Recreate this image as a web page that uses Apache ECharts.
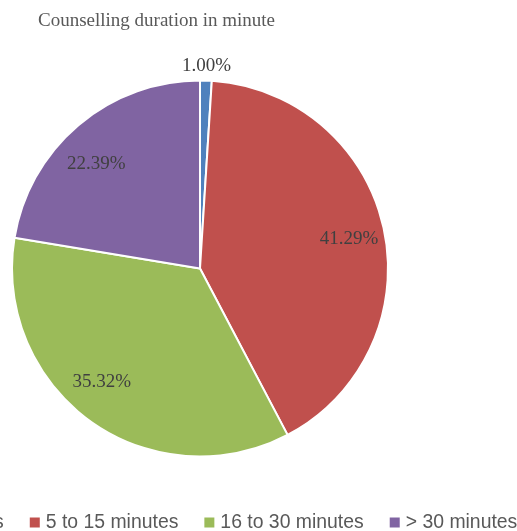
<!DOCTYPE html>
<html>
<head>
<meta charset="utf-8">
<script src="https://cdn.jsdelivr.net/npm/echarts@6/dist/echarts.min.js"></script>
<style>
html,body{margin:0;padding:0;background:#fff;}
#chart{width:517px;height:531px;}
</style>
</head>
<body>
<div id="chart"></div>
<script>
const categories = ['< 5 minutes', '5 to 15 minutes', '16 to 30 minutes', '> 30 minutes'];
const values = [1.00, 41.29, 35.32, 22.39];
const colors = ['#4F81BD', '#C0504D', '#9BBB59', '#8064A2'];
const titleText = 'Counselling duration in minute';

const fmt = p => p.value.toFixed(2) + '%';
const labelFont = { fontFamily: '"Liberation Serif", "Times New Roman", serif', fontSize: 19, color: '#404040' };
const center = [200, 268.5];

// label nudges (styling, Excel "best fit" placement)
const nudge = { 1: [0, 2], 2: [-9, -10], 3: [-5, 12] };
const pieData = categories.map((c, i) => ({ name: c, value: values[i] }));
const innerLabelData = categories.map((c, i) => ({
  name: c, value: values[i],
  label: { offset: nudge[i] || [0, 0] }
}));

const chart = echarts.init(document.getElementById('chart'), null, { renderer: 'canvas' });
chart.setOption({
  animation: false,
  color: colors,
  title: {
    text: titleText,
    left: 33,
    top: 7,
    textStyle: { fontFamily: '"Liberation Serif", "Times New Roman", serif', fontSize: 19, fontWeight: 'normal', color: '#595959' }
  },
  legend: {
    data: categories,
    left: -120,
    top: 508,
    width: 1200,
    itemWidth: 12,
    itemHeight: 12,
    itemGap: 24,
    icon: 'rect',
    textStyle: { fontFamily: '"Liberation Sans", Arial, sans-serif', fontSize: 19.4, color: '#595959' }
  },
  series: [
    {
      type: 'pie',
      center: center,
      radius: 188,
      startAngle: 90,
      clockwise: true,
      label: { show: false },
      labelLine: { show: false },
      itemStyle: { borderColor: '#ffffff', borderWidth: 2 },
      emphasis: { disabled: true },
      data: pieData
    },
    {
      type: 'pie',
      center: center,
      radius: [111, 188],
      startAngle: 90,
      clockwise: true,
      silent: true,
      itemStyle: { color: 'transparent', borderWidth: 0 },
      label: Object.assign({ show: true, position: 'inside', formatter: p => p.value >= 5 ? fmt(p) : '' }, labelFont),
      labelLine: { show: false },
      emphasis: { disabled: true },
      data: innerLabelData
    },
    {
      type: 'pie',
      center: center,
      radius: [186, 217],
      startAngle: 90,
      clockwise: true,
      silent: true,
      itemStyle: { color: 'transparent', borderWidth: 0 },
      label: Object.assign({ show: true, position: 'inside', offset: [0, 2], formatter: p => p.value < 5 ? fmt(p) : '' }, labelFont),
      labelLine: { show: false },
      emphasis: { disabled: true },
      data: pieData
    }
  ]
});
</script>
</body>
</html>
